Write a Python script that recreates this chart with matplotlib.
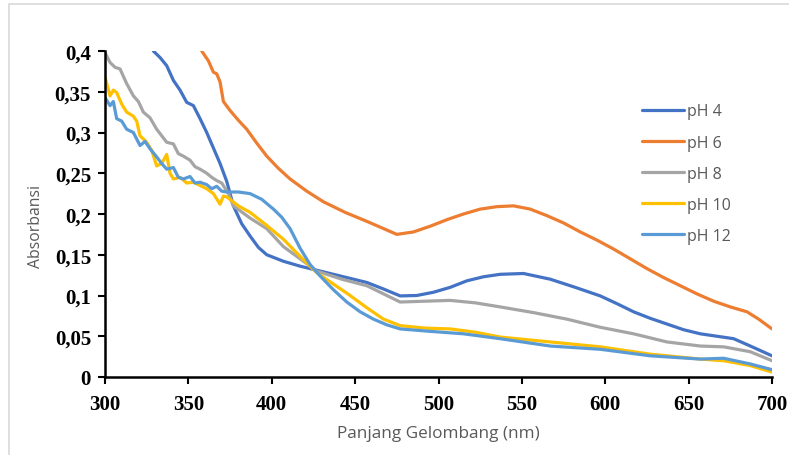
import matplotlib
matplotlib.use("Agg")
import matplotlib.pyplot as plt
from matplotlib.patches import Rectangle
from matplotlib.ticker import FuncFormatter

# ---- data ----
x_ph4 = [329, 333, 337, 341, 345, 349, 353, 357, 361, 365, 369, 373, 377, 382, 387, 392, 397,
         407, 417, 427, 437, 447, 457, 467, 477, 487, 497, 507, 517, 527, 537, 551, 567,
         582, 597, 607, 617, 627, 637, 647, 657, 667, 677, 687, 700]
y_ph4 = [0.400, 0.392, 0.382, 0.364, 0.352, 0.337, 0.333, 0.317, 0.300, 0.281, 0.262, 0.240, 0.210,
         0.188, 0.173, 0.159, 0.150, 0.142, 0.136, 0.131, 0.126, 0.121, 0.116, 0.108, 0.0995,
         0.100, 0.104, 0.110, 0.118, 0.123, 0.126, 0.127, 0.120, 0.110, 0.0995, 0.090,
         0.080, 0.072, 0.065, 0.058, 0.053, 0.050, 0.047, 0.038, 0.026]

x_ph6 = [358, 362, 365, 367, 369, 371, 375, 380, 385, 391, 397, 404, 411, 421, 431, 444, 457,
         466, 475, 485, 495, 505, 515, 525, 535, 545, 555, 565, 575, 585, 595, 605, 615,
         625, 635, 645, 655, 665, 675, 685, 692, 700]
y_ph6 = [0.400, 0.388, 0.374, 0.372, 0.362, 0.338, 0.327, 0.315, 0.304, 0.287, 0.271, 0.256,
         0.243, 0.228, 0.215, 0.202, 0.191, 0.183, 0.175, 0.178, 0.185, 0.193, 0.200, 0.206,
         0.209, 0.210, 0.206, 0.198, 0.189, 0.178, 0.168, 0.157, 0.145, 0.133, 0.122, 0.112,
         0.102, 0.093, 0.086, 0.080, 0.071, 0.059]

x_ph8 = [300, 303, 306, 309, 313, 317, 320, 323, 327, 331, 334, 337, 341, 344, 347, 351, 354,
         357, 361, 364, 367, 370, 374, 377, 387, 397, 407, 417, 427, 442, 457, 467, 477,
         492, 507, 522, 537, 557, 577, 597, 617, 637, 657, 671, 687, 700]
y_ph8 = [0.398, 0.386, 0.380, 0.378, 0.360, 0.345, 0.338, 0.325, 0.318, 0.304, 0.296, 0.288,
         0.286, 0.274, 0.271, 0.266, 0.258, 0.255, 0.250, 0.245, 0.241, 0.238, 0.225, 0.210,
         0.195, 0.182, 0.160, 0.145, 0.130, 0.120, 0.112, 0.102, 0.092, 0.093, 0.094, 0.091,
         0.086, 0.079, 0.071, 0.061, 0.053, 0.043, 0.038, 0.037, 0.031, 0.020]

x_ph10 = [300, 303, 305, 307, 310, 313, 317, 319, 321, 325, 328, 331, 334, 337, 339, 341, 345,
          349, 353, 357, 361, 365, 369, 371, 373, 380, 387, 397, 407, 417, 427, 437, 447,
          457, 467, 477, 492, 507, 522, 537, 567, 597, 627, 657, 671, 687, 700]
y_ph10 = [0.368, 0.345, 0.352, 0.349, 0.335, 0.325, 0.320, 0.314, 0.296, 0.288, 0.278, 0.259,
          0.262, 0.273, 0.250, 0.243, 0.245, 0.238, 0.239, 0.235, 0.231, 0.225, 0.212, 0.222,
          0.221, 0.210, 0.202, 0.186, 0.169, 0.148, 0.128, 0.114, 0.100, 0.085, 0.071, 0.063,
          0.060, 0.059, 0.055, 0.049, 0.043, 0.037, 0.028, 0.022, 0.020, 0.014, 0.006]

x_ph12 = [300, 303, 305, 307, 310, 313, 317, 321, 324, 327, 331, 334, 337, 341, 344, 347, 351,
          354, 357, 361, 364, 367, 370, 373, 380, 387, 394, 401, 406, 411, 417, 423, 429, 437,
          445, 453, 461, 469, 477, 495, 515, 537, 567, 597, 627, 657, 671, 687, 700]
y_ph12 = [0.343, 0.333, 0.338, 0.317, 0.314, 0.304, 0.300, 0.284, 0.289, 0.280, 0.270, 0.262,
          0.255, 0.257, 0.245, 0.243, 0.246, 0.238, 0.239, 0.236, 0.231, 0.234, 0.228, 0.227,
          0.227, 0.225, 0.218, 0.206, 0.196, 0.182, 0.158, 0.138, 0.124, 0.107, 0.092, 0.080,
          0.071, 0.064, 0.059, 0.056, 0.053, 0.047, 0.038, 0.034, 0.026, 0.022, 0.023, 0.016,
          0.009]

series_labels = ["pH 4", "pH 6", "pH 8", "pH 10", "pH 12"]
series_colors = ["#4472C4", "#ED7D31", "#A5A5A5", "#FFC000", "#5B9BD5"]
x_ticks = [300, 350, 400, 450, 500, 550, 600, 650, 700]
y_ticks = [0, 0.05, 0.1, 0.15, 0.2, 0.25, 0.3, 0.35, 0.4]
x_title = "Panjang Gelombang (nm)"
y_title = "Absorbansi"

# ---- figure ----
W, H = 789, 456
fig = plt.figure(figsize=(W / 100, H / 100), dpi=100)
fig.patch.set_facecolor("white")
fig.patches.append(Rectangle((8.5 / W, -0.1), 1.2, 1 - 5 / H + 0.1, transform=fig.transFigure,
                             fill=False, edgecolor="#d9d9d9", linewidth=1.2))

ax = fig.add_axes([105 / W, 1 - 378 / H, (772 - 105) / W, (378 - 52) / H])
xs = [x_ph4, x_ph6, x_ph8, x_ph10, x_ph12]
ys = [y_ph4, y_ph6, y_ph8, y_ph10, y_ph12]
lines = []
for xv, yv, lab, col in zip(xs, ys, series_labels, series_colors):
    ln, = ax.plot(xv, yv, color=col, lw=2.3, label=lab, solid_joinstyle="round",
                  solid_capstyle="round")
    lines.append(ln)

ax.set_xlim(300, 700)
ax.set_ylim(0, 0.4)
ax.set_xticks(x_ticks)
ax.set_yticks(y_ticks)

def fmt_y(v, pos):
    s = ("%.2f" % v).rstrip("0").rstrip(".")
    return s.replace(".", ",")

ax.yaxis.set_major_formatter(FuncFormatter(fmt_y))
ax.xaxis.set_major_formatter(FuncFormatter(lambda v, p: "%d" % v))

for sp in ["top", "right"]:
    ax.spines[sp].set_visible(False)
for sp in ["left", "bottom"]:
    ax.spines[sp].set_linewidth(1.8)
    ax.spines[sp].set_color("black")
ax.tick_params(direction="out", length=5, width=1.5, color="black")
for lab in ax.get_xticklabels() + ax.get_yticklabels():
    lab.set_fontfamily("Liberation Serif")
    lab.set_fontweight("bold")
    lab.set_fontsize(15)
ax.tick_params(axis="x", pad=7)
ax.tick_params(axis="y", pad=5)

ax.set_xlabel(x_title, fontsize=12.3, color="#595959", family="Open Sans", labelpad=8)
ax.set_ylabel(y_title, fontsize=11.3, color="#595959", family="Open Sans")
ax.yaxis.set_label_coords(-0.092, 0.465)

leg = fig.legend(handles=lines, labels=series_labels, loc="upper left",
                 bbox_to_anchor=(628 / W, 1 - 90 / H), frameon=False,
                 prop={"family": "Open Sans", "size": 11.5}, labelcolor="#595959",
                 handlelength=2.6, handletextpad=0.2, labelspacing=0.95)

fig.savefig("out.png", dpi=100, facecolor="white")
